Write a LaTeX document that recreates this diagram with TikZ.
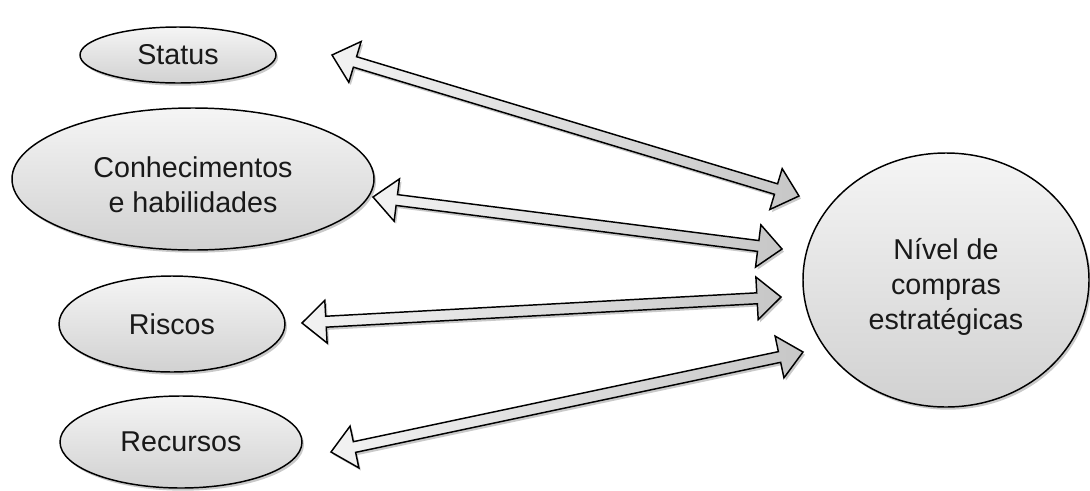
\documentclass[tikz,border=0pt]{standalone}
\usepackage{fontspec}
\setmainfont{Liberation Sans}
\usetikzlibrary{shapes.geometric,calc,shadows}
\newcommand{\ahl}{18pt}
\newcommand{\ahw}{16pt}
\newcommand{\asw}{4.1pt}
\newcommand{\dblarrow}[2]{%
  \coordinate (hA) at ($(#1)!\ahl!(#2)$);
  \coordinate (hB) at ($(#2)!\ahl!(#1)$);
  \draw[blockarrow] (#1) -- ($(hA)!\ahw!90:(#2)$) -- ($(hA)!\asw!90:(#2)$)
    -- ($(hB)!\asw!-90:(#1)$) -- ($(hB)!\ahw!-90:(#1)$) -- (#2)
    -- ($(hB)!\ahw!90:(#1)$) -- ($(hB)!\asw!90:(#1)$)
    -- ($(hA)!\asw!-90:(#2)$) -- ($(hA)!\ahw!-90:(#2)$) -- cycle;}
\tikzset{
  ovaltext/.style={align=center, font=\fontsize{21.5}{26.25}\selectfont, text=black!90},
  oval/.style={ellipse, draw=black, line width=1.1pt, inner sep=0pt,
    top color=black!4, bottom color=black!18, ovaltext,
    drop shadow={shadow xshift=1.5pt, shadow yshift=-2pt, opacity=0.3, fill=black!70}},
  blockarrow/.style={draw=black, line width=1.1pt, line join=miter,
    left color=black!5, right color=black!22,
    drop shadow={shadow xshift=1.5pt, shadow yshift=-2pt, opacity=0.3, fill=black!70}}
}
\begin{document}
\begin{tikzpicture}[x=0.75pt,y=-0.75pt]
\useasboundingbox (0,0) rectangle (1090,490);
\node[oval, minimum width=147pt, minimum height=42pt] (status) at (178,55) {Status};
\node[oval, minimum width=271.5pt, minimum height=106.5pt,
  label={[ovaltext, yshift=-4.5pt]center:Conhecimentos\\e habilidades}] (conh) at (193,179) {};
\node[oval, minimum width=169.5pt, minimum height=72pt] (riscos) at (172,324) {Riscos};
\node[oval, minimum width=181.5pt, minimum height=69pt] (recursos) at (181,442) {Recursos};
\node[oval, minimum width=214.5pt, minimum height=190.5pt,
  label={[ovaltext, yshift=-5pt]center:Nível de\\compras\\estratégicas}] (nivel) at (946,280) {};
\coordinate (s1) at (332,55);  \coordinate (s2) at (799,196);
\coordinate (c1) at (373,197); \coordinate (c2) at (782,249);
\coordinate (r1) at (302,323); \coordinate (r2) at (781,297);
\coordinate (e1) at (331,452); \coordinate (e2) at (803,352);
\dblarrow{s1}{s2}
\dblarrow{c1}{c2}
\dblarrow{r1}{r2}
\dblarrow{e1}{e2}
\end{tikzpicture}
\end{document}
